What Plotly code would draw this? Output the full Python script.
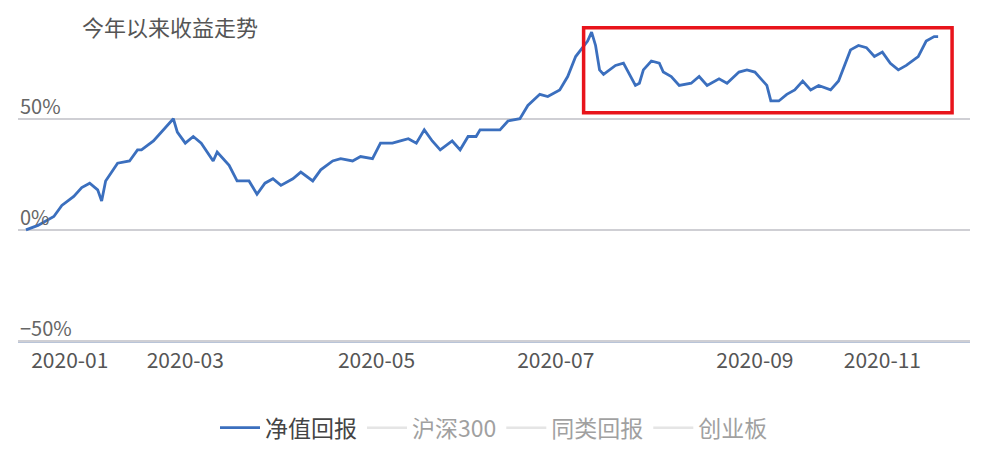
import plotly.graph_objects as go

# trading-day index and cumulative return (%)
day = [0,3,7,9,12,14,16,18,19,20,23,26,28,29,32,34,37,38,40,42,44,47,48,51,53,56,58,60,62,64,67,69,72,74,77,79,82,84,87,89,92,94,96,98,100,102,104,107,109,111,113,114,117,119,121,124,126,129,131,134,136,138,141,142,143,144,145,148,150,153,154,155,157,159,160,162,164,167,169,171,174,176,179,181,183,186,187,189,191,193,195,197,199,202,204,207,209,211,213,215,217,219,221,224,226,228,229]
ret = [0,2,6,11,15,19,21,18,13,22,30,31,36,36,40,44,50,44,39,42,39,31,35,29,22,22,16,21,23,20,23,26,22,27,31,32,31,33,32,39,39,40,41,39,45,40,36,40,36,42,42,45,45,45,49,50,56,61,60,63,69,78,85,89,83,72,70,74,75,65,66,72,76,75,71,69,65,66,69,65,68,66,71,72,71,65,58,58,61,63,67,63,65,63,67,81,83,82,78,80,75,72,74,78,85,87,87]
tick_vals = [11, 40, 88, 133, 183, 215]
tick_text = ["2020-01", "2020-03", "2020-05", "2020-07", "2020-09", "2020-11"]
y_labels = [50, 0, -50]
series = ["净值回报", "沪深300", "同类回报", "创业板"]

fig = go.Figure()
fig.add_trace(go.Scatter(x=day, y=ret, mode="lines", name=series[0],
                         line=dict(color="#3b6fbe", width=2.8)))
for s in series[1:]:
    fig.add_trace(go.Scatter(x=[None], y=[None], mode="lines", name=s,
                             line=dict(color="#cccccc", width=2.5), visible="legendonly"))

for v in y_labels:
    fig.add_annotation(x=0, xref="paper", y=v, yref="y", text=f"{v}%".replace("-", "−"),
                       showarrow=False, xanchor="left", yanchor="bottom", xshift=0, yshift=-3,
                       font=dict(size=20, color="#666"))
fig.add_annotation(x=0.065, xref="paper", y=1.04, yref="paper", text="今年以来收益走势",
                   showarrow=False, xanchor="left", yanchor="top",
                   font=dict(size=22, color="#555"))
fig.add_shape(type="rect", x0=140, x1=232.5, y0=52.7, y1=91, xref="x", yref="y",
              line=dict(color="#e8141b", width=3.5))

fig.update_layout(
    width=982, height=462, plot_bgcolor="white", paper_bgcolor="white",
    margin=dict(l=10, r=20, t=13, b=128, autoexpand=False),
    font=dict(family="Noto Sans CJK SC"),
    xaxis=dict(range=[-2, 237], tickvals=tick_vals, ticktext=tick_text, showgrid=False,
               zeroline=False, showline=True, linecolor="#b8c4d8", ticks="",
               tickfont=dict(size=21, color="#555")),
    yaxis=dict(range=[-50.5, 94], tickvals=y_labels, showticklabels=False,
               gridcolor="#cfcfd4", gridwidth=1.5, zeroline=False),
    legend=dict(orientation="h", x=0.5, xanchor="center", y=-0.2, yanchor="top",
                font=dict(size=23, color="#444"), itemwidth=40),
    showlegend=True,
)
fig.write_html("out.html")
